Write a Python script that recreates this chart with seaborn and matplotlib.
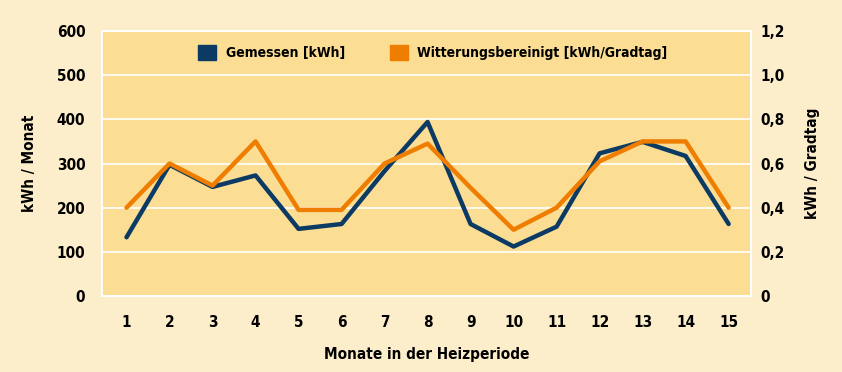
import seaborn as sns
import pandas as pd
import matplotlib.pyplot as plt
from matplotlib.patches import Patch
from matplotlib.ticker import FuncFormatter

# monthly values
monate = list(range(1, 16))
gemessen_kwh = [133, 297, 247, 273, 152, 163, 283, 394, 163, 112, 157, 323, 349, 317, 163]
bereinigt_kwh_gradtag = [0.40, 0.60, 0.50, 0.70, 0.39, 0.39, 0.60, 0.69, 0.49, 0.30, 0.40, 0.61, 0.70, 0.70, 0.40]

left_ticks = [0, 100, 200, 300, 400, 500, 600]
right_ticks = [0, 0.2, 0.4, 0.6, 0.8, 1.0, 1.2]

BLUE = '#0b3a64'
ORANGE = '#ee7d00'
OUTER_BG = '#fdeecb'
PLOT_BG = '#fbdd94'

df = pd.DataFrame({'monat': monate, 'gemessen': gemessen_kwh, 'bereinigt': bereinigt_kwh_gradtag})

sns.set_style('white')
plt.rcParams['font.family'] = ['DejaVu Sans']
plt.rcParams['font.stretch'] = 'condensed'
plt.rcParams['font.weight'] = 'bold'
plt.rcParams['text.color'] = 'black'

fig = plt.figure(figsize=(8.42, 3.72), dpi=100, facecolor=OUTER_BG)
ax = fig.add_axes([102 / 842, 1 - 296 / 372, 649 / 842, 265 / 372])
ax.set_facecolor(PLOT_BG)
ax2 = ax.twinx()

# horizontal white grid
for t in left_ticks:
    ax.axhline(t, color='white', lw=1.2, zorder=0)

sns.lineplot(data=df, x='monat', y='gemessen', ax=ax, color=BLUE, lw=3.2)
sns.lineplot(data=df, x='monat', y='bereinigt', ax=ax2, color=ORANGE, lw=3.2)

ax.set_xlim(0.43, 15.52)
ax.set_ylim(0, 600)
ax2.set_ylim(0, 1.2)
ax.set_xticks(monate)
ax.set_yticks(left_ticks)
ax2.set_yticks(right_ticks)
ax2.yaxis.set_major_formatter(FuncFormatter(lambda v, p: '0' if v == 0 else f'{v:.1f}'.replace('.', ',')))

for a in (ax, ax2):
    for s in a.spines.values():
        s.set_color('white')
        s.set_linewidth(1.2)
    a.tick_params(length=0, labelsize=11, colors='black')

ax.tick_params(axis='y', pad=12)
ax2.tick_params(axis='y', pad=7)
ax.tick_params(axis='x', pad=14)

ax.set_xlabel('Monate in der Heizperiode', fontsize=11, fontweight='bold', labelpad=12, color='black')
ax.set_ylabel('kWh / Monat', fontsize=11, fontweight='bold', labelpad=14, color='black')
ax2.set_ylabel('kWh / Gradtag', fontsize=11, fontweight='bold', labelpad=14, color='black')

handles = [Patch(color=BLUE, label='Gemessen [kWh]'),
           Patch(color=ORANGE, label='Witterungsbereinigt [kWh/Gradtag]')]
leg = ax2.legend(handles=handles, loc='upper center', ncol=2, frameon=False,
                 fontsize=10, handlelength=1.3, handleheight=1.3, handletextpad=0.7,
                 columnspacing=3.2, bbox_to_anchor=(0.51, 0.995))
for txt in leg.get_texts():
    txt.set_fontweight('bold')

fig.savefig('out.png', dpi=100, facecolor=OUTER_BG)
